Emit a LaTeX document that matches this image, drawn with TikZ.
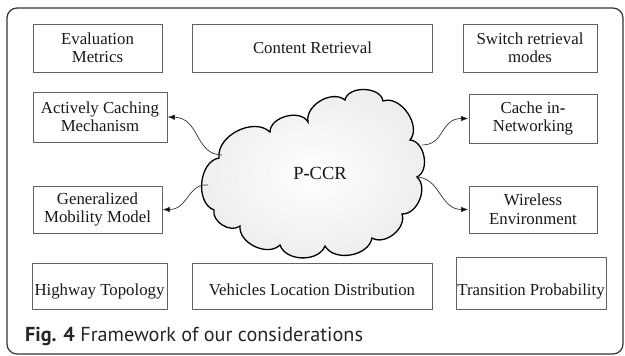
\documentclass[tikz,border=0pt]{standalone}
\usepackage{fontspec}
\setmainfont{Liberation Serif}
\newfontfamily\capfont{PT Sans}
\usetikzlibrary{arrows.meta}
\begin{document}
\begin{tikzpicture}[x=1pt,y=-1pt,
  box/.style={draw=black!62, line width=0.9pt, inner sep=0pt, align=center,
    text=black!90, font=\fontsize{16.8}{18.5}\selectfont},
  lowtext/.style={text depth=0pt, text height=#1},
  conn/.style={draw=black!80, line width=0.7pt, -{Latex[length=7.5pt,width=5.5pt,fill=black]}},
  frame/.style={draw=black!80, line width=1.2pt, rounded corners=10pt},
  cloudline/.style={draw=black, line width=1.3pt, inner color=white, outer color=black!7}]
\useasboundingbox (0,0) rectangle (625,356);
\fill[white] (0,0) rectangle (625,356);
\draw[frame] (7,8) rectangle (623,354);

\node[box, minimum width=129, minimum height=48] (em)  at (97.5,48) {Evaluation\\Metrics};
\node[box, minimum width=240, minimum height=48] (cr)  at (312.5,48) {Content Retrieval};
\node[box, minimum width=134, minimum height=48] (srm) at (530,48) {Switch retrieval\\modes};
\node[box, minimum width=134, minimum height=50] (acm) at (100,117) {Actively Caching\\Mechanism};
\node[box, minimum width=128, minimum height=49] (cin) at (533,118.5) {Cache in\textbf{-}\\Networking};
\node[box, minimum width=129, minimum height=47] (gmm) at (97.5,209.5) {Generalized\\Mobility Model};
\node[box, minimum width=128, minimum height=47] (we)  at (533,209.5) {Wireless\\Environment};
\node[box, lowtext=18pt, minimum width=135, minimum height=46] (ht)  at (99.5,286) {Highway Topology};
\node[box, lowtext=18pt, minimum width=240, minimum height=46] (vld) at (312,286) {Vehicles Location Distribution};
\node[box, lowtext=24pt, minimum width=150, minimum height=52] (tp)  at (531,283) {Transition Probability};

% cloud
\shade[cloudline] (214,210)
  to[bend left=75] (219,158)
  to[bend left=70] (270,132)
  to[bend left=75] (308,122)
  to[bend left=70] (345,100)
  to[bend left=80] (383,101)
  to[bend left=75] (410,140)
  to[bend left=75] (417,177)
  to[bend left=70] (402,214)
  to[bend left=70] (372,238)
  to[bend left=70] (325,246)
  to[bend left=70] (280,245)
  to[bend left=70] (240,226)
  to[bend left=70] cycle;
\node[text=black!90, font=\fontsize{18.5}{20}\selectfont] (pccr) at (320,173) {P\textbf{-}CCR};

\coordinate (c1) at (222,155);
\coordinate (c2) at (208,185);
\coordinate (c3) at (422,145);
\coordinate (c4) at (416,177);
\draw[conn] (c1) .. controls (195,155) and (200,118) .. (acm.east);
\draw[conn] (c2) .. controls (188,183) and (188,209.5) .. (gmm.east);
\draw[conn] (c3) .. controls (445,145) and (440,118.5) .. (cin.west);
\draw[conn] (c4) .. controls (440,177) and (440,209.5) .. (we.west);

\node[anchor=base west, inner sep=0pt, text=black!85,
  font=\capfont\fontsize{20.2}{23}\selectfont] (cap) at (25,341)
  {\textbf{Fig. 4} Framework of our considerations};
\end{tikzpicture}
\end{document}
